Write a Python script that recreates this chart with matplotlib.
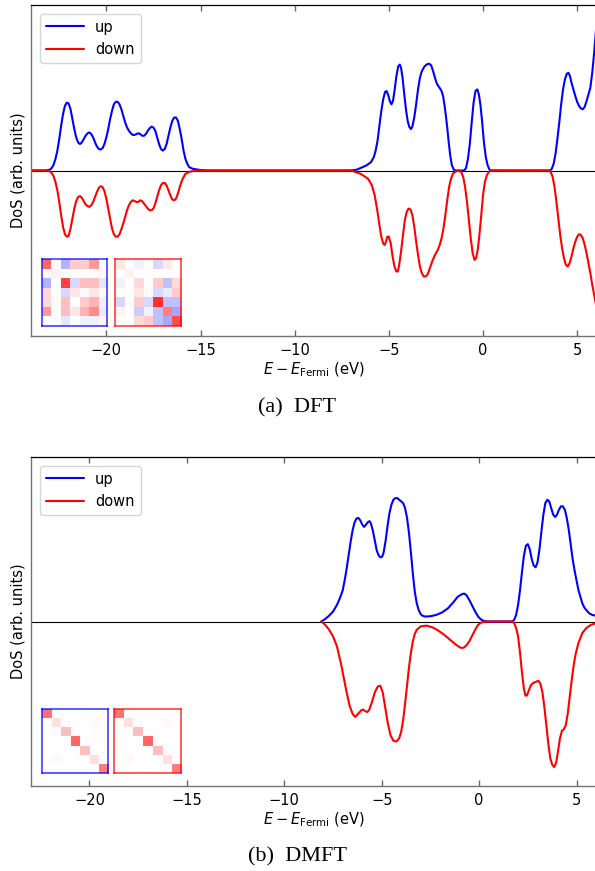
import numpy as np
import matplotlib
matplotlib.use("Agg")
import matplotlib.pyplot as plt

# ---- DFT spin-resolved DoS, (E - E_F [eV], DoS [arb.]) ----
dft_up = [
    (-24.0, 0.0), (-23.2, 0.0), (-23.0, 0.005), (-22.9, 0.015), (-22.8, 0.035),
    (-22.7, 0.07), (-22.6, 0.12), (-22.5, 0.19), (-22.4, 0.27), (-22.3, 0.34),
    (-22.2, 0.39), (-22.1, 0.41), (-22.0, 0.405), (-21.9, 0.37), (-21.8, 0.31),
    (-21.7, 0.25), (-21.6, 0.20), (-21.5, 0.17), (-21.4, 0.16), (-21.3, 0.17),
    (-21.2, 0.19), (-21.1, 0.21), (-21.0, 0.225), (-20.9, 0.23), (-20.8, 0.22),
    (-20.7, 0.20), (-20.6, 0.17), (-20.5, 0.145), (-20.4, 0.13), (-20.3, 0.127),
    (-20.2, 0.135), (-20.1, 0.16), (-20.0, 0.20), (-19.9, 0.25), (-19.8, 0.31),
    (-19.7, 0.36), (-19.6, 0.40), (-19.5, 0.415), (-19.4, 0.415), (-19.3, 0.40),
    (-19.2, 0.37), (-19.1, 0.33), (-19.0, 0.29), (-18.9, 0.26), (-18.8, 0.24),
    (-18.7, 0.225), (-18.6, 0.215), (-18.5, 0.215), (-18.4, 0.22), (-18.3, 0.225),
    (-18.2, 0.22), (-18.1, 0.21), (-18.0, 0.21), (-17.9, 0.22), (-17.8, 0.24),
    (-17.7, 0.255), (-17.6, 0.265), (-17.5, 0.26), (-17.4, 0.24), (-17.3, 0.20),
    (-17.2, 0.16), (-17.1, 0.13), (-17.0, 0.12), (-16.9, 0.13), (-16.8, 0.16),
    (-16.7, 0.21), (-16.6, 0.26), (-16.5, 0.30), (-16.4, 0.32), (-16.3, 0.32),
    (-16.2, 0.30), (-16.1, 0.25), (-16.0, 0.19), (-15.9, 0.12), (-15.8, 0.07),
    (-15.7, 0.04), (-15.6, 0.02), (-15.4, 0.01), (-15.0, 0.003), (-14.6, 0.0),
    (-7.0, 0.0), (-6.7, 0.005), (-6.4, 0.02), (-6.2, 0.03), (-5.95, 0.05),
    (-5.8, 0.08), (-5.7, 0.12), (-5.6, 0.18), (-5.5, 0.27), (-5.4, 0.36),
    (-5.3, 0.43), (-5.2, 0.475), (-5.12, 0.48), (-5.03, 0.455), (-4.95, 0.42),
    (-4.86, 0.40), (-4.78, 0.42), (-4.7, 0.48), (-4.6, 0.57), (-4.5, 0.63),
    (-4.42, 0.64), (-4.35, 0.62), (-4.27, 0.56), (-4.18, 0.46), (-4.08, 0.36),
    (-4.0, 0.30), (-3.92, 0.265), (-3.83, 0.25), (-3.75, 0.265), (-3.65, 0.32),
    (-3.55, 0.40), (-3.45, 0.49), (-3.35, 0.56), (-3.25, 0.60), (-3.1, 0.63),
    (-2.95, 0.643), (-2.85, 0.645), (-2.75, 0.635), (-2.65, 0.60), (-2.55, 0.56),
    (-2.45, 0.525), (-2.37, 0.51), (-2.28, 0.495), (-2.2, 0.48), (-2.12, 0.45),
    (-2.05, 0.40), (-1.98, 0.34), (-1.9, 0.26), (-1.82, 0.17), (-1.74, 0.09),
    (-1.65, 0.03), (-1.55, 0.005), (-1.45, 0.0), (-1.0, 0.0), (-0.9, 0.015),
    (-0.8, 0.07), (-0.7, 0.16), (-0.6, 0.29), (-0.5, 0.41), (-0.4, 0.48),
    (-0.3, 0.49), (-0.22, 0.46), (-0.14, 0.40), (-0.05, 0.30), (0.05, 0.17),
    (0.15, 0.08), (0.25, 0.03), (0.37, 0.0), (3.56, 0.0), (3.65, 0.01),
    (3.75, 0.04), (3.85, 0.10), (3.95, 0.19), (4.05, 0.29), (4.15, 0.40),
    (4.25, 0.49), (4.35, 0.55), (4.45, 0.585), (4.54, 0.59), (4.62, 0.57),
    (4.7, 0.53), (4.8, 0.49), (4.9, 0.45), (5.0, 0.415), (5.1, 0.39),
    (5.2, 0.375), (5.3, 0.37), (5.4, 0.385), (5.5, 0.42), (5.6, 0.46),
    (5.7, 0.50), (5.8, 0.59), (5.9, 0.71), (6.0, 0.85),
]

dft_dn = [
    (-24.0, 0.0), (-23.2, 0.0), (-23.0, -0.005), (-22.9, -0.015), (-22.8, -0.035),
    (-22.7, -0.07), (-22.6, -0.12), (-22.5, -0.19), (-22.4, -0.27), (-22.3, -0.34),
    (-22.2, -0.385), (-22.1, -0.40), (-22.0, -0.395), (-21.9, -0.35), (-21.8, -0.29),
    (-21.7, -0.23), (-21.6, -0.185), (-21.5, -0.16), (-21.4, -0.155), (-21.3, -0.165),
    (-21.2, -0.185), (-21.1, -0.205), (-21.0, -0.215), (-20.9, -0.22), (-20.8, -0.21),
    (-20.7, -0.19), (-20.6, -0.16), (-20.5, -0.13), (-20.4, -0.105), (-20.3, -0.095),
    (-20.2, -0.10), (-20.1, -0.125), (-20.0, -0.17), (-19.9, -0.23), (-19.8, -0.29),
    (-19.7, -0.35), (-19.6, -0.385), (-19.5, -0.40), (-19.4, -0.40), (-19.3, -0.385),
    (-19.2, -0.355), (-19.1, -0.32), (-19.0, -0.28), (-18.9, -0.24), (-18.8, -0.21),
    (-18.7, -0.19), (-18.6, -0.18), (-18.5, -0.185), (-18.4, -0.19), (-18.3, -0.19),
    (-18.2, -0.18), (-18.1, -0.185), (-18.0, -0.20), (-17.9, -0.215), (-17.8, -0.23),
    (-17.7, -0.24), (-17.6, -0.24), (-17.5, -0.23), (-17.4, -0.20), (-17.3, -0.16),
    (-17.2, -0.12), (-17.1, -0.09), (-17.0, -0.075), (-16.9, -0.075), (-16.8, -0.09),
    (-16.7, -0.12), (-16.6, -0.15), (-16.5, -0.175), (-16.4, -0.18), (-16.3, -0.17),
    (-16.2, -0.14), (-16.1, -0.10), (-16.0, -0.065), (-15.9, -0.04), (-15.8, -0.02),
    (-15.6, -0.008), (-15.3, -0.002), (-15.0, 0.0),
    (-7.0, 0.0), (-6.5, -0.02), (-6.1, -0.05), (-5.9, -0.09), (-5.75, -0.15),
    (-5.6, -0.25), (-5.5, -0.33), (-5.4, -0.40), (-5.3, -0.44), (-5.22, -0.45),
    (-5.15, -0.43), (-5.08, -0.40), (-5.0, -0.40), (-4.9, -0.44), (-4.8, -0.52),
    (-4.7, -0.58), (-4.6, -0.61), (-4.52, -0.61), (-4.45, -0.57), (-4.35, -0.49),
    (-4.25, -0.39), (-4.15, -0.30), (-4.05, -0.25), (-3.95, -0.23), (-3.85, -0.235),
    (-3.75, -0.27), (-3.65, -0.34), (-3.55, -0.43), (-3.45, -0.51), (-3.35, -0.58),
    (-3.25, -0.62), (-3.15, -0.64), (-3.05, -0.64), (-2.95, -0.63), (-2.85, -0.60),
    (-2.7, -0.55), (-2.55, -0.51), (-2.4, -0.48), (-2.3, -0.45), (-2.2, -0.41),
    (-2.1, -0.35), (-2.0, -0.27), (-1.9, -0.18), (-1.8, -0.10), (-1.7, -0.05),
    (-1.6, -0.02), (-1.45, -0.005), (-1.3, 0.0), (-1.15, -0.01), (-1.05, -0.04),
    (-0.95, -0.10), (-0.85, -0.19), (-0.75, -0.30), (-0.65, -0.41), (-0.55, -0.50),
    (-0.45, -0.54), (-0.37, -0.53), (-0.28, -0.48), (-0.2, -0.40), (-0.1, -0.28),
    (0.0, -0.15), (0.1, -0.07), (0.2, -0.03), (0.3, -0.01), (0.4, 0.0),
    (3.5, 0.0), (3.6, -0.01), (3.7, -0.04), (3.8, -0.10), (3.9, -0.19),
    (4.0, -0.29), (4.1, -0.39), (4.2, -0.47), (4.3, -0.53), (4.4, -0.57),
    (4.5, -0.58), (4.6, -0.56), (4.7, -0.52), (4.8, -0.47), (4.9, -0.43),
    (5.0, -0.40), (5.1, -0.385), (5.2, -0.39), (5.3, -0.41), (5.4, -0.45),
    (5.5, -0.50), (5.6, -0.56), (5.7, -0.62), (5.8, -0.69), (5.9, -0.75),
    (6.0, -0.81),
]

# ---- DMFT spin-resolved spectral function (window starts near -8 eV) ----
dmft_up = [
    (-8.1, 0.0), (-7.9, 0.015), (-7.7, 0.035), (-7.5, 0.06), (-7.3, 0.10),
    (-7.15, 0.14), (-7.0, 0.19), (-6.9, 0.25), (-6.8, 0.32), (-6.7, 0.40),
    (-6.6, 0.48), (-6.5, 0.55), (-6.4, 0.60), (-6.3, 0.625), (-6.2, 0.63),
    (-6.1, 0.615), (-6.0, 0.59), (-5.9, 0.575), (-5.8, 0.59), (-5.7, 0.605),
    (-5.62, 0.61), (-5.55, 0.595), (-5.45, 0.55), (-5.35, 0.49), (-5.25, 0.43),
    (-5.15, 0.40), (-5.05, 0.39), (-4.97, 0.395), (-4.9, 0.42), (-4.8, 0.49),
    (-4.7, 0.58), (-4.6, 0.66), (-4.5, 0.71), (-4.4, 0.74), (-4.3, 0.75),
    (-4.2, 0.75), (-4.1, 0.74), (-4.0, 0.73), (-3.9, 0.72), (-3.8, 0.69),
    (-3.7, 0.63), (-3.6, 0.54), (-3.5, 0.42), (-3.4, 0.29), (-3.3, 0.18),
    (-3.2, 0.11), (-3.1, 0.07), (-3.0, 0.045), (-2.9, 0.035), (-2.77, 0.03),
    (-2.5, 0.032), (-2.2, 0.04), (-1.9, 0.055), (-1.6, 0.08), (-1.3, 0.12),
    (-1.1, 0.15), (-0.9, 0.165), (-0.77, 0.17), (-0.65, 0.16), (-0.5, 0.13),
    (-0.35, 0.095), (-0.2, 0.06), (-0.05, 0.03), (0.1, 0.012), (0.25, 0.003),
    (0.4, 0.0), (1.7, 0.0), (1.8, 0.01), (1.9, 0.04), (2.0, 0.10),
    (2.1, 0.19), (2.2, 0.30), (2.3, 0.40), (2.4, 0.46), (2.5, 0.47),
    (2.6, 0.44), (2.7, 0.38), (2.8, 0.34), (2.9, 0.33), (3.0, 0.36),
    (3.1, 0.44), (3.2, 0.55), (3.3, 0.65), (3.4, 0.72), (3.5, 0.74),
    (3.6, 0.73), (3.7, 0.69), (3.8, 0.65), (3.9, 0.635), (4.0, 0.65),
    (4.1, 0.68), (4.2, 0.70), (4.3, 0.70), (4.4, 0.68), (4.5, 0.63),
    (4.6, 0.56), (4.7, 0.47), (4.8, 0.38), (4.9, 0.31), (5.0, 0.25),
    (5.1, 0.19), (5.2, 0.15), (5.3, 0.11), (5.4, 0.085), (5.5, 0.07),
    (5.65, 0.05), (5.8, 0.04), (6.0, 0.035),
]

dmft_dn = [
    (-8.1, 0.0), (-7.9, -0.02), (-7.7, -0.05), (-7.5, -0.09), (-7.3, -0.15),
    (-7.1, -0.25), (-6.95, -0.34), (-6.8, -0.43), (-6.65, -0.51), (-6.5, -0.56),
    (-6.36, -0.58), (-6.2, -0.56), (-6.05, -0.54), (-5.95, -0.535), (-5.85, -0.545),
    (-5.75, -0.55), (-5.65, -0.54), (-5.5, -0.49), (-5.35, -0.43), (-5.2, -0.395),
    (-5.07, -0.39), (-4.95, -0.43), (-4.85, -0.50), (-4.7, -0.61), (-4.55, -0.69),
    (-4.4, -0.725), (-4.25, -0.73), (-4.1, -0.71), (-4.0, -0.67), (-3.9, -0.60),
    (-3.8, -0.50), (-3.7, -0.39), (-3.6, -0.28), (-3.5, -0.19), (-3.4, -0.12),
    (-3.3, -0.075), (-3.2, -0.05), (-3.0, -0.03), (-2.7, -0.025), (-2.4, -0.035),
    (-2.1, -0.055), (-1.8, -0.08), (-1.5, -0.11), (-1.2, -0.14), (-0.95, -0.16),
    (-0.8, -0.16), (-0.65, -0.145), (-0.5, -0.12), (-0.35, -0.085), (-0.2, -0.05),
    (-0.05, -0.02), (0.1, -0.007), (0.3, 0.0), (1.7, 0.0), (1.8, -0.01),
    (1.9, -0.04), (2.0, -0.09), (2.1, -0.19), (2.2, -0.31), (2.3, -0.41),
    (2.38, -0.45), (2.45, -0.45), (2.55, -0.42), (2.65, -0.39), (2.75, -0.375),
    (2.85, -0.37), (2.95, -0.365), (3.05, -0.36), (3.15, -0.38), (3.25, -0.43),
    (3.35, -0.52), (3.45, -0.63), (3.55, -0.74), (3.65, -0.83), (3.75, -0.87),
    (3.85, -0.885), (3.95, -0.86), (4.05, -0.79), (4.15, -0.71), (4.25, -0.665),
    (4.35, -0.655), (4.45, -0.63), (4.55, -0.56), (4.65, -0.46), (4.75, -0.36),
    (4.85, -0.27), (4.95, -0.20), (5.1, -0.13), (5.3, -0.07), (5.5, -0.04),
    (5.75, -0.02), (6.0, -0.01),
]

# ---- 7x7 local matrices (f shell), colour scale -1..1 ----
dft_mat_up = [[0.60, 0.00, -0.30, 0.20, 0.20, 0.40, 0.00],
              [0.02, 0.05, 0.00, 0.00, 0.00, 0.00, 0.02],
              [-0.30, 0.00, 0.75, -0.15, 0.25, 0.25, -0.10],
              [0.15, 0.00, -0.15, 0.10, 0.02, 0.10, 0.02],
              [0.15, 0.02, 0.25, 0.00, 0.20, 0.30, -0.07],
              [0.40, 0.00, 0.25, 0.10, 0.30, 0.45, -0.08],
              [0.00, 0.00, -0.10, 0.00, -0.05, -0.05, 0.05]]
dft_mat_dn = [[0.10, 0.00, -0.05, 0.00, -0.15, 0.08, 0.00],
              [0.00, 0.05, 0.00, 0.00, 0.00, 0.00, 0.00],
              [-0.05, 0.00, 0.15, 0.00, 0.20, -0.25, 0.15],
              [0.00, 0.00, 0.10, 0.02, -0.15, -0.08, 0.20],
              [-0.15, 0.00, 0.20, -0.15, 0.80, -0.25, -0.25],
              [0.05, 0.00, -0.20, -0.05, -0.25, 0.50, -0.35],
              [0.00, 0.00, 0.15, 0.20, -0.25, -0.35, 0.70]]
dmft_diag_up = [0.55, 0.12, 0.25, 0.60, 0.25, 0.12, 0.50]
dmft_diag_dn = [0.55, 0.12, 0.25, 0.60, 0.25, 0.12, 0.50]
dmft_offdiag = 0.03

plt.rcParams['font.family'] = ['DejaVu Sans']
plt.rcParams['font.size'] = 10.5
plt.rcParams['mathtext.fontset'] = 'dejavusans'

fig = plt.figure(figsize=(5.95, 8.71), dpi=100)

W, H = 595.0, 871.0


def pix_axes(x0, y0, x1, y1):
    return fig.add_axes([x0 / W, 1 - y1 / H, (x1 - x0) / W, (y1 - y0) / H])


def dmft_matrix(diag):
    m = np.diag(diag)
    m[1, 5] = m[5, 1] = dmft_offdiag
    return m


def style_axes(ax, xlim):
    ax.set_xlim(*xlim)
    ax.set_ylim(-1, 1)
    ax.set_yticks([])
    ax.set_xticks([-20, -15, -10, -5, 0, 5])
    ax.tick_params(axis='x', direction='in', top=True, length=4.5, width=1,
                   color='0.4', pad=5, labelsize=10.5)
    for s in ('left', 'bottom'):
        ax.spines[s].set_color('0.45')
        ax.spines[s].set_linewidth(1.0)
    ax.spines['top'].set_linewidth(0.9)
    ax.axhline(0, color='k', lw=0.8, zorder=1)
    ax.set_ylabel('DoS (arb. units)', labelpad=4)
    ax.set_xlabel(r'$E - E_{\mathrm{Fermi}}$ (eV)', labelpad=2)
    ax.legend(loc='upper left', fontsize=10.5, handlelength=2.6,
              borderaxespad=0.6)


def add_inset(ax, mat, color, rect):
    ins = ax.inset_axes(rect)
    ins.imshow(mat, cmap='bwr', vmin=-1, vmax=1, aspect='auto',
               interpolation='nearest')
    ins.set_xticks([])
    ins.set_yticks([])
    for s in ins.spines.values():
        s.set_edgecolor(color)
        s.set_alpha(0.75)
        s.set_linewidth(1.2)


line_kw = dict(lw=1.5, solid_joinstyle='round', solid_capstyle='round')

# (a) DFT
ax1 = pix_axes(31, 5, 596, 336)
e, d = np.array(dft_up).T
ax1.plot(e, d, color='blue', label='up', **line_kw)
e, d = np.array(dft_dn).T
ax1.plot(e, d, color='red', label='down', **line_kw)
style_axes(ax1, (-24, 6))
add_inset(ax1, dft_mat_up, 'blue', [0.019, 0.030, 0.116, 0.202])
add_inset(ax1, dft_mat_dn, 'red', [0.148, 0.030, 0.118, 0.202])
fig.text(0.5, 1 - 408 / H, '(a)  DFT', ha='center', va='center',
         family='Liberation Serif', fontsize=16)

# (b) DMFT
ax2 = pix_axes(31, 457, 596, 786)
e, d = np.array(dmft_up).T
ax2.plot(e, d, color='blue', label='up', **line_kw)
e, d = np.array(dmft_dn).T
ax2.plot(e, d, color='red', label='down', **line_kw)
style_axes(ax2, (-23, 6))
add_inset(ax2, dmft_matrix(dmft_diag_up), 'blue', [0.019, 0.040, 0.117, 0.194])
add_inset(ax2, dmft_matrix(dmft_diag_dn), 'red', [0.147, 0.040, 0.119, 0.194])
fig.text(0.5, 1 - 857 / H, '(b)  DMFT', ha='center', va='center',
         family='Liberation Serif', fontsize=16)

fig.savefig('out.png', dpi=100)
